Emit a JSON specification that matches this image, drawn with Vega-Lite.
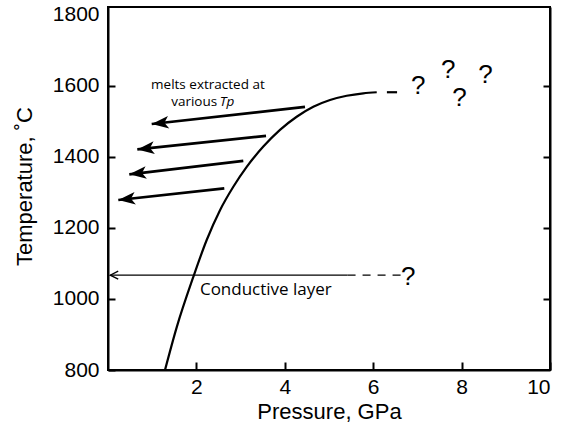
{
  "$schema": "https://vega.github.io/schema/vega-lite/v6.json",
  "width": 442,
  "height": 363,
  "autosize": {"type": "none"},
  "padding": {"left": 108, "top": 7, "right": 15, "bottom": 59},
  "background": "white",
  "config": {
    "view": {"stroke": "black", "strokeWidth": 2},
    "axis": {"grid": false, "domainColor": "black", "domainWidth": 2, "tickColor": "black", "tickWidth": 2, "labelColor": "black", "titleColor": "black", "labelFont": "Liberation Sans", "titleFont": "Liberation Sans", "titleFontWeight": "normal"}
  },
  "datasets": {
    "curve": [
      {"P": 1.29, "T": 800},
      {"P": 1.554, "T": 920},
      {"P": 1.93, "T": 1062},
      {"P": 2.233, "T": 1166},
      {"P": 2.534, "T": 1250},
      {"P": 2.835, "T": 1316},
      {"P": 3.138, "T": 1372},
      {"P": 3.514, "T": 1429},
      {"P": 3.891, "T": 1476},
      {"P": 4.269, "T": 1513},
      {"P": 4.645, "T": 1541},
      {"P": 5.023, "T": 1560},
      {"P": 5.4, "T": 1572},
      {"P": 5.776, "T": 1579},
      {"P": 6.08, "T": 1582}
    ],
    "curveDash": [{"P": 6.31, "T": 1582}, {"P": 6.54, "T": 1582}],
    "arrows": [
      {"id": 1, "end": "tail", "P": 4.457, "T": 1541},
      {"id": 1, "end": "tip", "P": 0.989, "T": 1492.6},
      {"id": 2, "end": "tail", "P": 3.575, "T": 1459},
      {"id": 2, "end": "tip", "P": 0.663, "T": 1421},
      {"id": 3, "end": "tail", "P": 3.061, "T": 1389},
      {"id": 3, "end": "tip", "P": 0.482, "T": 1351},
      {"id": 4, "end": "tail", "P": 2.631, "T": 1311.5},
      {"id": 4, "end": "tip", "P": 0.233, "T": 1278.6}
    ],
    "conductive": [{"P": 0.05, "T": 1067}, {"P": 5.42, "T": 1067}],
    "conductiveDash": [{"P": 5.42, "T": 1067}, {"P": 6.62, "T": 1067}],
    "conductiveTip": [{"P": 0.05, "T": 1067}],
    "melts": [{"P": 2.26, "T": 1602, "label": "melts extracted at"}],
    "various": [{"P": 2.47, "T": 1554.5, "label": "various"}],
    "tp": [{"P": 2.53, "T": 1554.5, "label": "Tp"}],
    "condText": [{"P": 2.08, "T": 1025, "label": "Conductive layer"}],
    "questions": [
      {"P": 7.02, "T": 1599.5, "label": "?"},
      {"P": 7.7, "T": 1644.6, "label": "?"},
      {"P": 7.95, "T": 1565, "label": "?"},
      {"P": 8.54, "T": 1630.5, "label": "?"},
      {"P": 6.79, "T": 1062.7, "label": "?"}
    ]
  },
  "layer": [
    {
      "encoding": {
        "x": {"field": "P", "type": "quantitative", "scale": {"domain": [0, 10], "nice": false, "zero": false},
          "axis": {"values": [2, 4, 6, 8, 10], "format": "d", "title": "Pressure, GPa", "tickSize": -8, "labelPadding": 14, "labelFontSize": 21, "titleFontSize": 22, "titleX": 221, "titleY": 48, "titleBaseline": "alphabetic", "titleAlign": "center"}},
        "y": {"field": "T", "type": "quantitative", "scale": {"domain": [800, 1822], "nice": false, "zero": false},
          "axis": {"values": [800, 1000, 1200, 1400, 1600, 1800], "format": "d", "title": "Temperature, ˚C", "tickSize": -7, "labelPadding": 16, "labelFontSize": 21, "titleFontSize": 22, "titleX": -77, "titleY": 179, "titleBaseline": "alphabetic", "titleAlign": "center", "titleAngle": -90,
            "tickColor": {"condition": {"test": "datum.value == 1800", "value": "transparent"}, "value": "black"}}}
      },
      "layer": [
        {"data": {"name": "curve"}, "mark": {"type": "line", "color": "black", "strokeWidth": 2.2, "interpolate": "monotone"}},
        {"data": {"name": "curveDash"}, "mark": {"type": "line", "color": "black", "strokeWidth": 2.2}},
        {"data": {"name": "arrows"}, "mark": {"type": "line", "color": "black", "strokeWidth": 2.7}, "encoding": {"detail": {"field": "id", "type": "nominal"}}},
        {"data": {"name": "arrows"}, "transform": [{"filter": "datum.end == 'tip'"}], "mark": {"type": "point", "shape": "M0,0L2,-0.75L1.5,0L2,0.75Z", "size": 289, "angle": -6, "filled": true, "fill": "black", "strokeWidth": 0, "opacity": 1}},
        {"data": {"name": "conductive"}, "mark": {"type": "line", "color": "black", "strokeWidth": 1.3}},
        {"data": {"name": "conductiveDash"}, "mark": {"type": "line", "color": "black", "strokeWidth": 1.3, "strokeDash": [8, 7]}},
        {"data": {"name": "conductiveTip"}, "mark": {"type": "point", "shape": "M2,-1L0,0L2,1", "size": 64, "filled": false, "stroke": "black", "strokeWidth": 1.3, "opacity": 1}},
        {"data": {"name": "melts"}, "mark": {"type": "text", "font": "Open Sans", "fontSize": 13.5, "align": "center", "baseline": "middle", "color": "black"}, "encoding": {"text": {"field": "label"}}},
        {"data": {"name": "various"}, "mark": {"type": "text", "font": "Open Sans", "fontSize": 13.5, "align": "right", "baseline": "middle", "color": "black"}, "encoding": {"text": {"field": "label"}}},
        {"data": {"name": "tp"}, "mark": {"type": "text", "font": "Open Sans", "fontSize": 13.5, "fontStyle": "italic", "align": "left", "baseline": "middle", "color": "black"}, "encoding": {"text": {"field": "label"}}},
        {"data": {"name": "condText"}, "mark": {"type": "text", "font": "Open Sans", "fontSize": 17, "align": "left", "baseline": "middle", "color": "black"}, "encoding": {"text": {"field": "label"}}},
        {"data": {"name": "questions"}, "mark": {"type": "text", "font": "Liberation Sans", "fontSize": 26, "align": "center", "baseline": "middle", "color": "black"}, "encoding": {"text": {"field": "label"}}}
      ]
    },
    {
      "data": {"name": "conductiveTip"},
      "mark": {"type": "point", "opacity": 0},
      "encoding": {
        "y": {"field": "T", "type": "quantitative", "scale": {"domain": [800, 1822], "nice": false, "zero": false},
          "axis": {"orient": "right", "values": [1000, 1200, 1400, 1600], "labels": false, "title": null, "tickSize": -7}}
      }
    }
  ],
  "resolve": {"axis": {"y": "independent"}}
}
